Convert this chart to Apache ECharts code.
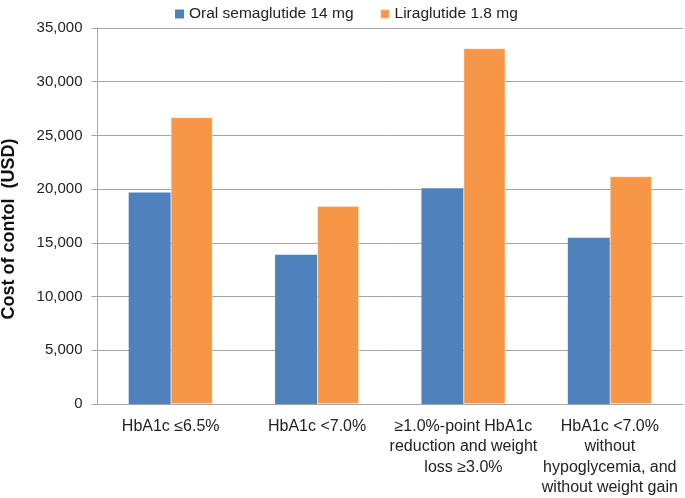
<!DOCTYPE html>
<html>
<head>
<meta charset="utf-8">
<script src="https://cdn.jsdelivr.net/npm/echarts@6/dist/echarts.min.js"></script>
<style>
  html, body { margin: 0; padding: 0; background: #ffffff; }
  #chart { width: 685px; height: 498px; }
</style>
</head>
<body>
<div id="chart"></div>
<script>
const categories = [
  "HbA1c ≤6.5%",
  "HbA1c <7.0%",
  "≥1.0%-point HbA1c\nreduction and weight\nloss ≥3.0%",
  "HbA1c <7.0%\nwithout\nhypoglycemia, and\nwithout weight gain",
];
const semaglutide = [19680, 13900, 20090, 15470];
const liraglutide = [26700, 18420, 33110, 21200];
const yTicks = { min: 0, max: 35000, interval: 5000 };

const fontFamily = "'Liberation Sans', Arial, sans-serif";
const gridColor = "#a6a6a6";

const chart = echarts.init(document.getElementById("chart"));

const chartOpt = {
  animation: false,
  textStyle: { fontFamily: fontFamily },
  legend: {
    left: 170,
    top: 1,
    itemWidth: 9,
    itemHeight: 9,
    itemGap: 26,
    icon: "rect",
    textStyle: { fontSize: 15.5, color: "#222", fontFamily: fontFamily },
    data: ["Oral semaglutide 14 mg", "Liraglutide 1.8 mg"],
  },
  grid: {
    left: 97.5,
    right: 2,
    top: 28,
    bottom: 94,
    outerBoundsMode: "none",
  },
  graphic: [
    {
      type: "text",
      x: 9,
      y: 229,
      rotation: Math.PI / 2,
      style: {
        text: "Cost of contol  (USD)",
        font: "bold 18px " + fontFamily,
        fill: "#111",
        align: "center",
        verticalAlign: "middle",
      },
    },
  ],
  xAxis: {
    type: "category",
    data: categories,
    axisLine: { lineStyle: { color: gridColor, width: 1 } },
    axisTick: { length: 6, lineStyle: { color: gridColor } },
    axisLabel: {
      color: "#222",
      fontSize: 16,
      lineHeight: 20.5,
      margin: 12,
      interval: 0,
      fontFamily: fontFamily,
    },
  },
  yAxis: {
    type: "value",
    min: yTicks.min,
    max: yTicks.max,
    interval: yTicks.interval,
    axisLine: { show: true, lineStyle: { color: gridColor, width: 1 } },
    axisTick: { show: true, length: 6, lineStyle: { color: gridColor } },
    axisLabel: {
      color: "#222",
      fontSize: 15,
      margin: 15,
      fontFamily: fontFamily,
      formatter: (v) => v.toLocaleString("en-US"),
    },
    splitLine: { lineStyle: { color: gridColor, width: 1 } },
  },
  series: [
    {
      name: "Oral semaglutide 14 mg",
      type: "bar",
      barWidth: 42,
      barGap: "0%",
      itemStyle: { color: "#4f81bd" },
      data: semaglutide,
    },
    {
      name: "Liraglutide 1.8 mg",
      type: "bar",
      barWidth: 42,
      barGap: "0%",
      itemStyle: {
        color: "#f79646",
        borderColor: "rgba(255,255,255,0.35)",
        borderWidth: 1,
      },
      data: liraglutide,
    },
  ],
};

chart.setOption(chartOpt);
</script>
</body>
</html>
